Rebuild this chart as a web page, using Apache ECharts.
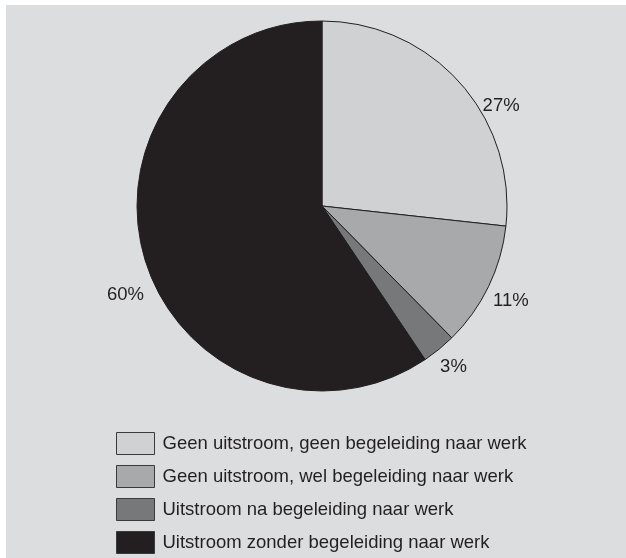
<!DOCTYPE html>
<html><head><meta charset="utf-8">
<script src="https://cdn.jsdelivr.net/npm/echarts@6/dist/echarts.min.js"></script>
<style>html,body{margin:0;padding:0;background:#fff;}#c{width:626px;height:558px;}</style>
</head><body><div id="c"></div>
<script>
const categories = [
  'Geen uitstroom, geen begeleiding naar werk',
  'Geen uitstroom, wel begeleiding naar werk',
  'Uitstroom na begeleiding naar werk',
  'Uitstroom zonder begeleiding naar werk'
];
const values = [27, 11, 3, 60];
const colors = ['#d0d1d3', '#a8a9ab', '#77787a', '#231f20'];
const labelNudges = [[0, 39], [-22, 4], [-19, -1], [27, 28]];

const chart = echarts.init(document.getElementById('c'), null, {renderer: 'canvas'});
chart.setOption({
  backgroundColor: '#ffffff',
  animation: false,
  graphic: [{type: 'rect', shape: {x: 6, y: 5, width: 620, height: 553}, style: {fill: '#dcdddf'}, z: -10}],
  color: colors,
  legend: {
    orient: 'vertical', left: 111, top: 427, height: 130, width: 500,
    itemWidth: 38, itemHeight: 22, itemGap: 10,
    icon: 'rect',
    selectedMode: false,
    textStyle: {fontFamily: 'Liberation Sans', fontSize: 18.5, color: '#231f20', padding: [4, 0, 0, 3]},
    itemStyle: {borderColor: '#3a3a3a', borderWidth: 1},
    data: categories
  },
  series: [{
    type: 'pie',
    center: [322, 206], radius: 185,
    startAngle: 90, clockwise: true,
    avoidLabelOverlap: false,
    itemStyle: {borderColor: '#231f20', borderWidth: 1},
    label: {show: true, position: 'outside', formatter: '{c}%', fontFamily: 'Liberation Sans', fontSize: 18.5, color: '#231f20'},
    labelLine: {show: false, length: 24, length2: 0},
    labelLayout: function (p) { const n = labelNudges[p.dataIndex]; return {dx: n[0], dy: n[1]}; },
    emphasis: {disabled: true},
    data: categories.map((n, i) => ({name: n, value: values[i]}))
  }]
});
</script></body></html>
